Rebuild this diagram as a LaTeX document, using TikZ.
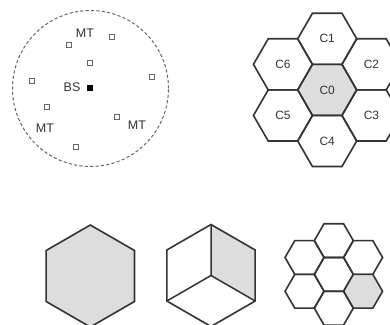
\documentclass[tikz,border=0pt]{standalone}
\usepackage{fontspec}
\setmainfont{Liberation Sans}
\usetikzlibrary{shapes.geometric}
\definecolor{ink}{HTML}{333333}
\definecolor{cellgray}{HTML}{DDDDDD}
\definecolor{dotgray}{HTML}{666666}
\tikzset{
  lbl/.style={font=\fontsize{12.5}{13}\selectfont, text=ink, inner sep=0pt},
  hexflat/.style={regular polygon, regular polygon sides=6, draw=ink,
    line width=1.6pt, inner sep=0pt, outer sep=0pt, minimum size=#1,
    font=\fontsize{12}{13}\selectfont, text=ink},
  hexpoint/.style={hexflat=#1, shape border rotate=30},
  terminal/.style={rectangle, draw=dotgray, fill=white, line width=0.9pt,
    minimum size=5pt, inner sep=0pt},
  station/.style={rectangle, fill=black, minimum size=5.5pt, inner sep=0pt},
  edge/.style={ink, line width=1.5pt, line join=round},
}
\begin{document}
\begin{tikzpicture}[x=1pt,y=1pt]
\useasboundingbox (0,0) rectangle (390,324);
\clip (0,0) rectangle (390,324);

% --- single cell with base station and mobile terminals
\node[circle, draw=dotgray, line width=1pt, dash pattern=on 3.2pt off 2.2pt,
      minimum size=156pt, inner sep=0pt] (cell) at (90.5,235.5) {};
\node[station] (bs) at (90,236) {};
\node[lbl] (bslbl) at (72,237) {BS};
\node[lbl] (mt1) at (85,291) {MT};
\node[lbl] (mt2) at (45,196) {MT};
\node[lbl] (mt3) at (137,199) {MT};
\node[terminal] (t1) at (69,279) {};
\node[terminal] (t2) at (112,287) {};
\node[terminal] (t3) at (90,261) {};
\node[terminal] (t4) at (32,243) {};
\node[terminal] (t5) at (152,247) {};
\node[terminal] (t6) at (47,217) {};
\node[terminal] (t7) at (117,207) {};
\node[terminal] (t8) at (76,177) {};

% --- seven-cell cluster with labels
\node[hexflat=59pt, fill=cellgray] (c0) at (327.2,234.1) {C0};
\node[hexflat=59pt] (c1) at ([shift={(90:51.1)}]c0.center) {C1};
\node[hexflat=59pt] (c2) at ([shift={(30:51.1)}]c0.center) {C2};
\node[hexflat=59pt] (c3) at ([shift={(-30:51.1)}]c0.center) {C3};
\node[hexflat=59pt] (c4) at ([shift={(-90:51.1)}]c0.center) {C4};
\node[hexflat=59pt] (c5) at ([shift={(-150:51.1)}]c0.center) {C5};
\node[hexflat=59pt] (c6) at ([shift={(150:51.1)}]c0.center) {C6};

% --- plain hexagonal cell
\node[hexpoint=102pt, fill=cellgray] (hexa) at (90.3,48) {};

% --- three-sector cell drawn as a cube
\coordinate (cbc) at (211,48.5);
\coordinate (cbt) at ([shift={(90:51)}]cbc);
\coordinate (cbr) at ([shift={(30:51)}]cbc);
\coordinate (cbrb) at ([shift={(-30:51)}]cbc);
\coordinate (cblb) at ([shift={(-150:51)}]cbc);
\fill[cellgray] (cbc) -- (cbt) -- (cbr) -- (cbrb) -- cycle;
\draw[edge] (cbt) -- (cbc) -- (cbrb);
\draw[edge] (cbc) -- (cblb);
\node[hexpoint=102pt] (cube) at (cbc) {};

% --- small cluster with one highlighted cell
\node[hexflat=39pt] (s0) at (333.8,49.6) {};
\node[hexflat=39pt] (s1) at ([shift={(90:33.8)}]s0.center) {};
\node[hexflat=39pt] (s2) at ([shift={(30:33.8)}]s0.center) {};
\node[hexflat=39pt, fill=cellgray] (s3) at ([shift={(-30:33.8)}]s0.center) {};
\node[hexflat=39pt] (s4) at ([shift={(-90:33.8)}]s0.center) {};
\node[hexflat=39pt] (s5) at ([shift={(-150:33.8)}]s0.center) {};
\node[hexflat=39pt] (s6) at ([shift={(150:33.8)}]s0.center) {};
\end{tikzpicture}
\end{document}
